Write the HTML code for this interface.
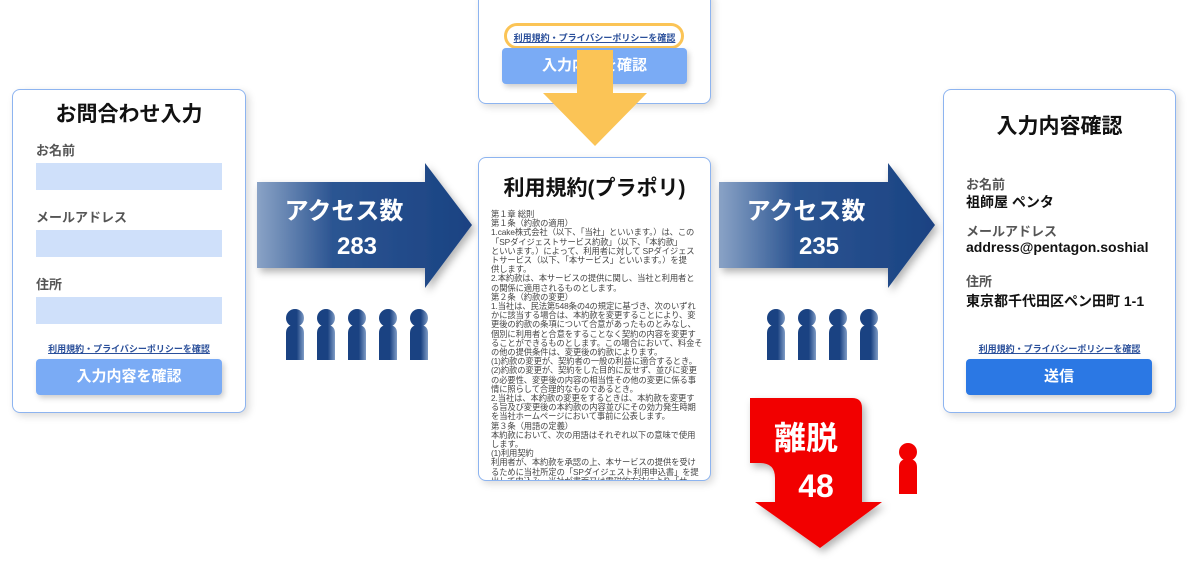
<!DOCTYPE html>
<html><head><meta charset="utf-8"><style>
body{margin:0;width:1195px;height:570px;background:#fff;position:relative;overflow:hidden;font-family:"Liberation Sans","Noto Sans CJK JP",sans-serif}
.a{position:absolute}
.panel{position:absolute;background:#fff;border:1.5px solid #8db4f0;border-radius:8px;box-shadow:3px 3px 8px rgba(0,0,0,.15);box-sizing:border-box}
.lbl{position:absolute;font-size:13px;color:#555;font-weight:bold}
.inp{position:absolute;background:#cfe0fa;width:186px;height:27px;left:23px}
.link{position:absolute;font-size:9px;color:#2a4f9a;text-decoration:underline;width:100%;text-align:center;font-weight:bold}
.btn{position:absolute;border-radius:4px;color:#fff;font-weight:bold;font-size:15px;text-align:center;box-shadow:2px 3px 6px rgba(0,0,0,.2)}
.terms{position:absolute;left:12px;top:52px;font-size:8.3px;line-height:9.2px;color:#444;white-space:nowrap;letter-spacing:-0.1px}
.val{position:absolute;font-size:14px;color:#111;font-weight:bold}
</style></head><body>

<div class="panel" style="left:12px;top:89px;width:234px;height:324px">
<div class="a" style="width:100%;top:8px;text-align:center;font-size:21px;font-weight:bold;color:#111">お問合わせ入力</div>
<div class="lbl" style="left:23px;top:50px">お名前</div>
<div class="inp" style="top:73px"></div>
<div class="lbl" style="left:23px;top:117px">メールアドレス</div>
<div class="inp" style="top:140px"></div>
<div class="lbl" style="left:23px;top:184px">住所</div>
<div class="inp" style="top:207px"></div>
<div class="link" style="top:252px;left:0">利用規約・プライバシーポリシーを確認</div>
<div class="btn" style="left:23px;top:269px;width:186px;height:36px;line-height:36px;background:#7aabf5">入力内容を確認</div>
</div>

<div class="panel" style="left:478px;top:-10px;width:233px;height:114px">
<div class="a" style="left:25px;top:32px;width:180px;height:26px;border:3px solid #fbc456;border-radius:14px;box-sizing:border-box;background:#fff"></div>
<div class="link" style="top:40px;left:0">利用規約・プライバシーポリシーを確認</div>
<div class="btn" style="left:23px;top:57px;width:185px;height:36px;line-height:36px;background:#7aabf5">入力内容を確認</div>
</div>
<svg class="a" style="left:0;top:0" width="1195" height="570">
<defs>
<linearGradient id="bg" x1="0" x2="1"><stop offset="0" stop-color="#8aa3c6"/><stop offset=".35" stop-color="#2c5592"/><stop offset="1" stop-color="#1a4282"/></linearGradient>
<linearGradient id="pg" x1="0" x2="1"><stop offset="0" stop-color="#1a4282"/><stop offset=".6" stop-color="#1a4282"/><stop offset="1" stop-color="#7f9cc6"/></linearGradient>
<filter id="sh"><feDropShadow dx="3" dy="4" stdDeviation="4" flood-opacity=".3"/></filter>
<g id="p"><circle cx="0" cy="318" r="9"/><path d="M-9,360 V333 Q-9,325 0,325 Q9,325 9,333 V360 Z"/></g>
</defs>
<polygon points="577,50 613,50 613,93 647,93 595,146 543,93 577,93" fill="#fbc456"/>
<polygon points="257,182 425,182 425,163 472,225 425,288 425,268 257,268" fill="url(#bg)" filter="url(#sh)"/>
<polygon points="719,182 888,182 888,163 935,225 888,288 888,268 719,268" fill="url(#bg)" filter="url(#sh)"/>
<path d="M750,398 H852 Q862,398 862,408 V502 H882 L820,548 L755,502 H775 V478 Q775,463 760,463 H750 Z" fill="#f20000" filter="url(#sh)"/>
<g fill="url(#pg)">
<use href="#p" x="295"/><use href="#p" x="326"/><use href="#p" x="357"/><use href="#p" x="388"/><use href="#p" x="419"/>
<use href="#p" x="776"/><use href="#p" x="807"/><use href="#p" x="838"/><use href="#p" x="869"/>
</g>
<g fill="#f20000"><circle cx="908" cy="452" r="9"/><path d="M899,494 V467 Q899,459 908,459 Q917,459 917,467 V494 Z"/></g>
<g fill="#fff" font-weight="bold" text-anchor="middle" font-family="Liberation Sans,Noto Sans CJK JP,sans-serif">
<text x="344" y="219" font-size="24">アクセス数</text><text x="357" y="254" font-size="24">283</text>
<text x="806" y="219" font-size="24">アクセス数</text><text x="819" y="254" font-size="24">235</text>
<text x="806" y="449" font-size="32">離脱</text><text x="816" y="497" font-size="32">48</text>
</g>
</svg>

<div class="panel" style="left:478px;top:157px;width:233px;height:324px;overflow:hidden">
<div class="a" style="width:100%;top:14px;text-align:center;font-size:21px;font-weight:bold;color:#111">利用規約(プラポリ)</div>
<div class="terms">第１章 総則<br>第１条（約款の適用）<br>1.cake株式会社（以下、「当社」といいます。）は、この<br>「SPダイジェストサービス約款」（以下、「本約款」<br>といいます。）によって、利用者に対して SPダイジェス<br>トサービス（以下、「本サービス」といいます。）を提<br>供します。<br>2.本約款は、本サービスの提供に関し、当社と利用者と<br>の関係に適用されるものとします。<br>第２条（約款の変更）<br>1.当社は、民法第548条の4の規定に基づき、次のいずれ<br>かに該当する場合は、本約款を変更することにより、変<br>更後の約款の条項について合意があったものとみなし、<br>個別に利用者と合意をすることなく契約の内容を変更す<br>ることができるものとします。この場合において、料金そ<br>の他の提供条件は、変更後の約款によります。<br>(1)約款の変更が、契約者の一般の利益に適合するとき。<br>(2)約款の変更が、契約をした目的に反せず、並びに変更<br>の必要性、変更後の内容の相当性その他の変更に係る事<br>情に照らして合理的なものであるとき。<br>2.当社は、本約款の変更をするときは、本約款を変更す<br>る旨及び変更後の本約款の内容並びにその効力発生時期<br>を当社ホームページにおいて事前に公表します。<br>第３条（用語の定義）<br>本約款において、次の用語はそれぞれ以下の意味で使用<br>します。<br>(1)利用契約<br>利用者が、本約款を承認の上、本サービスの提供を受け<br>るために当社所定の「SPダイジェスト利用申込書」を提<br>出して申込み、当社が書面又は電磁的方法により「サー<br>ビス利用通知」により承諾することにより締結される、<br>本サービスの提供に関する契約。<br>(2)利用者<br>当社と利用契約を締結して、本サービスを利用する法人</div>
</div>

<div class="panel" style="left:943px;top:89px;width:233px;height:324px">
<div class="a" style="width:100%;top:20px;text-align:center;font-size:21px;font-weight:bold;color:#111">入力内容確認</div>
<div class="lbl" style="left:22px;top:84px">お名前</div>
<div class="val" style="left:22px;top:102px">祖師屋 ペンタ</div>
<div class="lbl" style="left:22px;top:131px">メールアドレス</div>
<div class="val" style="left:22px;top:149px">address@pentagon.soshial</div>
<div class="lbl" style="left:22px;top:181px">住所</div>
<div class="val" style="left:22px;top:201px">東京都千代田区ペン田町 1-1</div>
<div class="link" style="top:252px;left:0">利用規約・プライバシーポリシーを確認</div>
<div class="btn" style="left:22px;top:269px;width:186px;height:36px;line-height:36px;background:#2b78e4">送信</div>
</div>
</body></html>
